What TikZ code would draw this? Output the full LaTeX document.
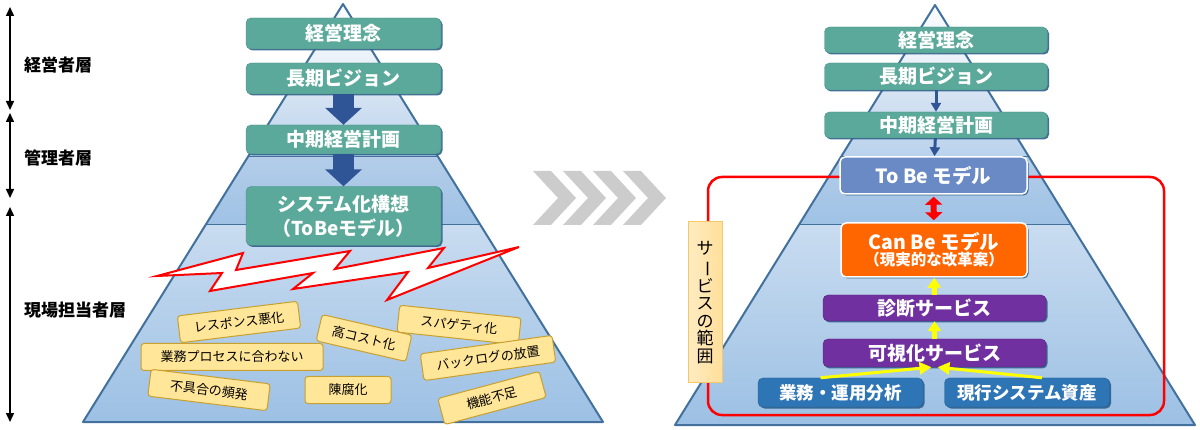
\documentclass[tikz,border=0pt]{standalone}
\usepackage{fontspec}
\setmainfont{Noto Sans CJK JP}
\usetikzlibrary{arrows.meta, shadows}
\definecolor{tealcol}{HTML}{5BA99A}
\definecolor{tealedge}{HTML}{4B8F8A}
\definecolor{shadowcol}{HTML}{2F5F8A}
\definecolor{navycol}{HTML}{2F5597}
\definecolor{pyrcol}{HTML}{41719C}
\definecolor{tobecol}{HTML}{6A8AC6}
\definecolor{canbecol}{HTML}{FF6600}
\definecolor{purplecol}{HTML}{7030A0}
\definecolor{srccol}{HTML}{2E75B6}
\definecolor{tagcol}{HTML}{FFE699}
\definecolor{tagedge}{HTML}{C9A02E}
\definecolor{rangecol}{HTML}{FFDF9A}
\definecolor{rangeedge}{HTML}{F5C869}
\definecolor{chevcol}{HTML}{CCCCCC}
\definecolor{yellowcol}{HTML}{FFFF00}
\definecolor{bandAt}{HTML}{FAFCFE}
\definecolor{bandAb}{HTML}{E4EDF7}
\definecolor{bandBt}{HTML}{DCE7F4}
\definecolor{bandBb}{HTML}{B9D2EC}
\definecolor{bandCt}{HTML}{B3CDE9}
\definecolor{bandCb}{HTML}{9FC2E5}
\definecolor{bandDt}{HTML}{C9DCF0}
\definecolor{bandDb}{HTML}{9CC0E4}
\tikzset{
  boxbase/.style={rectangle, rounded corners=5pt, text=white, inner sep=0pt,
    drop shadow={shadow xshift=1.5pt, shadow yshift=-1.5pt, fill=shadowcol, opacity=0.9}},
  tbox/.style={boxbase, draw=tealedge, fill=tealcol, minimum width=195pt, minimum height=31pt,
    font=\bfseries\fontsize{19}{24}\selectfont},
  tboxr/.style={tbox, minimum width=223pt, minimum height=26pt},
  tobebox/.style={boxbase, draw=white, line width=1.5pt, fill=tobecol, minimum width=187pt,
    minimum height=37pt, font=\bfseries\fontsize{19.5}{22}\selectfont},
  canbox/.style={boxbase, draw=white, line width=1.5pt, fill=canbecol, minimum width=186pt,
    minimum height=54pt, align=center, font=\bfseries},
  svcbox/.style={boxbase, draw=purplecol!80!black, fill=purplecol, minimum width=223pt,
    minimum height=26pt, font=\bfseries\fontsize{19}{22}\selectfont},
  srcbox/.style={boxbase, draw=srccol!80!black, fill=srccol, minimum width=165pt,
    minimum height=29pt, font=\bfseries\fontsize{17.5}{20}\selectfont},
  tag/.style={rectangle, rounded corners=3pt, draw=tagedge, line width=1pt, fill=tagcol,
    minimum height=27pt, inner sep=0pt, font=\fontsize{13}{15}\selectfont},
  layer/.style={anchor=west, inner sep=0pt, font=\bfseries\fontsize{17}{20}\selectfont},
  rangebox/.style={rectangle, draw=rangeedge, line width=1pt, left color=rangecol!60!white,
    right color=rangecol, minimum width=34pt, minimum height=161pt, inner sep=0pt,
    align=center, font=\fontsize{17}{17.5}\selectfont},
  pyrline/.style={pyrcol, line width=2pt, line join=round},
  bandline/.style={pyrcol, line width=1pt},
  bigarrow/.style={navycol, line width=21pt, -{Triangle[width=36pt, length=17pt]}},
  smallarrow/.style={navycol, line width=3pt, -{Triangle[width=10pt, length=9pt]}},
  rarrow/.style={red, line width=6pt, shorten <=2pt, shorten >=2pt,
    {Triangle[width=17pt, length=8pt]}-{Triangle[width=17pt, length=8pt]}},
  yarrow/.style={yellowcol, line width=5pt, -{Triangle[width=13pt, length=10pt]}},
  yline/.style={yellowcol, line width=3pt, -{Triangle[width=12pt, length=12pt]}},
  spanarrow/.style={black, line width=1.5pt,
    {Triangle[width=8pt, length=9pt]}-{Triangle[width=8pt, length=9pt]}},
  bolt/.style={red, line width=2pt, fill=white, line join=miter},
}
\begin{document}
\begin{tikzpicture}[x=1pt, y=-1pt]
  \useasboundingbox (0,0) rectangle (1200,430);
  % pyramids
  \foreach \cx/\ty/\by in {343/4/422, 935/5/425}{
    \begin{scope}
      \clip (\cx,\ty) -- (\cx-260,\by) -- (\cx+260,\by) -- cycle;
      \shade[top color=bandAt, bottom color=bandAb] (\cx-270,\ty) rectangle (\cx+270,80);
      \shade[top color=bandBt, bottom color=bandBb] (\cx-270,80) rectangle (\cx+270,157);
      \shade[top color=bandCt, bottom color=bandCb] (\cx-270,157) rectangle (\cx+270,225);
      \shade[top color=bandDt, bottom color=bandDb] (\cx-270,225) rectangle (\cx+270,\by);
      \draw[bandline] (\cx-270,157) -- (\cx+270,157) (\cx-270,225) -- (\cx+270,225);
    \end{scope}
    \draw[pyrline] (\cx,\ty) -- (\cx-260,\by) -- (\cx+260,\by) -- cycle;
  }

  % layer spans
  \foreach \i/\a/\b in {1/7/110, 2/113/198, 3/207/422}{
    \coordinate (s\i a) at (10,\a);
    \coordinate (s\i b) at (10,\b);
    \draw[spanarrow] (s\i a) -- (s\i b);
  }
  \node[layer] (lay1) at (24,65) {経営者層};
  \node[layer] (lay2) at (24,158) {管理者層};
  \node[layer] (lay3) at (24,310) {現場担当者層};

  % left side
  \node[tbox] (rinen1) at (343.5,33.5) {経営理念};
  \node[tbox] (vision1) at (343.5,78.5) {長期ビジョン};
  \node[tbox, minimum height=29pt] (keikaku1) at (343.5,139.5) {中期経営計画};
  \node[tbox, minimum height=59pt, align=center] (kousou1) at (343.5,216) {システム化構想\\（ToBeモデル）};
  \draw[bigarrow] (vision1) -- (keikaku1);
  \draw[bigarrow] (keikaku1) -- (kousou1);

  \draw[bolt] (157,276) -- (243,253) -- (236,270) -- (350,251) -- (335,269) -- (444,248)
    -- (428,268) -- (519,247) -- (387,300) -- (408,272) -- (293,289) -- (313,273)
    -- (210,291) -- (222,273) -- cycle;

  \node[tag, minimum width=121pt, rotate=7] (t1) at (239,322) {レスポンス悪化};
  \node[tag, minimum width=92pt, rotate=-13] (t2) at (364,338) {高コスト化};
  \node[tag, minimum width=122pt, rotate=-6] (t3) at (459,325) {スパゲティ化};
  \node[tag, minimum width=182pt] (t4) at (232,357) {業務プロセスに合わない};
  \node[tag, minimum width=133pt, rotate=8] (t5) at (488,358) {バックログの放置};
  \node[tag, minimum width=120pt, rotate=-7] (t6) at (209,390) {不具合の頻発};
  \node[tag, minimum width=86pt] (t7) at (348,390) {陳腐化};
  \node[tag, minimum width=105pt, rotate=15] (t8) at (492,398) {機能不足};

  % transition
  \foreach \x in {533,563,593,623}
    \fill[chevcol] (\x,171) -- ++(18,0) -- ++(25,27) -- ++(-25,27) -- ++(-18,0) -- ++(25,-27) -- cycle;

  % right side
  \draw[red, line width=2.5pt, rounded corners=14pt] (708,177) rectangle (1164,415);
  \node[tboxr] (rinen2) at (936,40) {経営理念};
  \node[tboxr, minimum height=27pt] (vision2) at (936,76.5) {長期ビジョン};
  \node[tboxr] (keikaku2) at (936,125) {中期経営計画};
  \node[tobebox] (tobe) at (933.5,175.5) {To Be モデル};
  \node[canbox] (canbe) at (934,250) {{\fontsize{19.5}{23}\selectfont Can Be モデル}\\{\fontsize{15.5}{18}\selectfont （現実的な改革案）}};
  \node[svcbox] (shindan) at (934.5,308) {診断サービス};
  \node[svcbox, minimum height=28pt] (kashika) at (934.5,353) {可視化サービス};
  \node[srcbox] (gyomu) at (840.5,392.5) {業務・運用分析};
  \node[srcbox] (genko) at (1027,392.5) {現行システム資産};
  \draw[smallarrow] (vision2) -- (keikaku2);
  \draw[smallarrow] (keikaku2) -- (tobe);
  \draw[rarrow] (tobe) -- (canbe);
  \draw[yarrow] (shindan) -- (canbe);
  \draw[yarrow] (kashika) -- (shindan);
  \draw[yline] ([xshift=-20pt]gyomu.north) -- ([xshift=-3pt]kashika.south);
  \draw[yline] ([xshift=15pt]genko.north) -- ([xshift=3pt]kashika.south);
  \node[rangebox] (hanni) at (705,302.5) {サ\\\rotatebox[origin=c]{-90}{ー}\\ビ\\ス\\の\\範\\囲};
\end{tikzpicture}
\end{document}
